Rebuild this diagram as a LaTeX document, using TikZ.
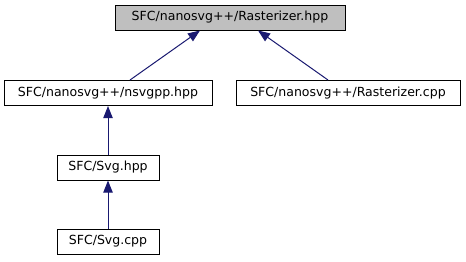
\documentclass[tikz,border=0pt]{standalone}
\usepackage{fontspec}
\setmainfont{DejaVu Sans}
\usetikzlibrary{arrows.meta}
\definecolor{edgeblue}{HTML}{191970}
\definecolor{rootgray}{HTML}{BFBFBF}
\begin{document}
\begin{tikzpicture}[x=0.75pt,y=-0.75pt,
  file/.style={draw=black, fill=white, line width=0.75pt, inner sep=0pt,
    font=\fontsize{9.4pt}{11pt}\selectfont, minimum height=18.75pt},
  rootfile/.style={file, fill=rootgray},
  edge/.style={draw=edgeblue, line width=0.75pt,
    -{Triangle[length=9pt,width=7pt]}}]
\useasboundingbox (0,0) rectangle (466,261);
\node[rootfile, minimum width=172.5pt] (root) at (230,17.5) {SFC/nanosvg++/Rasterizer.hpp};
\node[file, minimum width=156pt] (nsvgpp) at (108,93) {SFC/nanosvg++/nsvgpp.hpp};
\node[file, minimum width=168pt] (rcpp) at (348,93) {SFC/nanosvg++/Rasterizer.cpp};
\node[file, minimum width=76.5pt] (svghpp) at (108,167.5) {SFC/Svg.hpp};
\node[file, minimum width=76.5pt] (svgcpp) at (108,241.5) {SFC/Svg.cpp};
\draw[edge] ([xshift=16.5pt]nsvgpp.north) -- ([xshift=-22.5pt]root.south);
\draw[edge] ([xshift=-15pt]rcpp.north) -- ([xshift=21pt]root.south);
\draw[edge] (svghpp.north) -- (nsvgpp.south);
\draw[edge] (svgcpp.north) -- (svghpp.south);
\end{tikzpicture}
\end{document}
